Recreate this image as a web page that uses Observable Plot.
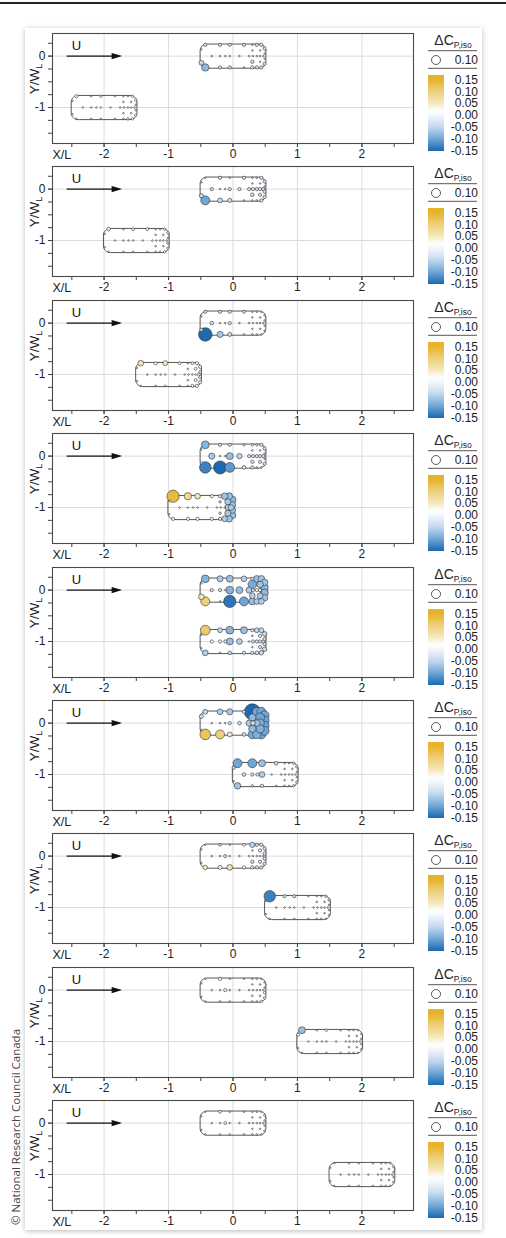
<!DOCTYPE html>
<html><head><meta charset="utf-8">
<script src="https://cdn.jsdelivr.net/npm/d3@7"></script>
<script src="https://cdn.jsdelivr.net/npm/@observablehq/plot@0.6"></script>
<style>
html,body{margin:0;padding:0;background:#fff;}
body{width:506px;height:1238px;position:relative;overflow:hidden;font-family:"Liberation Sans",Arial,sans-serif;}
#rule{position:absolute;left:0;top:2px;width:506px;height:1.5px;background:#222;}
#card{position:absolute;left:25px;top:28px;width:457px;height:1202px;background:#fff;box-shadow:0 1px 5px rgba(0,0,0,0.28);}
.panel{position:absolute;left:0;}
.legend{position:absolute;left:420px;}
.ylab{position:absolute;left:35px;transform:translate(-50%,-50%) rotate(-90deg);white-space:nowrap;font-size:13.5px;color:#222;line-height:1;}
.ylab sub{font-size:9px;vertical-align:-3px;line-height:0;}
#copy{position:absolute;left:15px;top:1127px;transform:translate(-50%,-50%) rotate(-90deg);white-space:nowrap;font-family:"Open Sans",sans-serif;font-size:11.5px;color:#444;}
</style></head>
<body>
<div id="rule"></div>
<div id="card"></div>
<div id="copy">© National Research Council Canada</div>
<script>
// ---------- axes / layout values ----------
const xDomain = [-2.8, 2.8];
const yDomain = [-1.7, 0.44];
const xTicks = [-2, -1, 0, 1, 2];
const xMinor = [-2.5, -2, -1.5, -1, -0.5, 0, 0.5, 1, 1.5, 2, 2.5];
const yTicks = [0, -1];
const yMinor = [0.25, 0, -0.25, -0.5, -0.75, -1, -1.25, -1.5];
const arrowX = [-2.58, -1.86];
const arrowTipX = -1.72;
const uPos = [-2.5, 0.2];

// building A fixed at origin; building B moves along X/L at Y/W_L = -1
const bldgACenter = [0, 0];
const bldgBX = [-2, -1.5, -1, -0.5, 0, 0.5, 1, 1.5, 2];
const bldgBY = -1;

// pressure tap layout, relative to building centre
// [top row 7 | centre row 10 | bottom row 7 | left edge 2 | right edge 4 | inner rows 4]
const tapDX = [-0.43, -0.2, -0.05, 0.17, 0.3, 0.37, 0.44,
  -0.33, -0.2, -0.12, -0.05, 0.1, 0.25, 0.31, 0.37, 0.42, 0.47,
  -0.43, -0.2, -0.05, 0.17, 0.3, 0.37, 0.44,
  -0.49, -0.49,
  0.49, 0.49, 0.49, 0.49,
  0.3, 0.42, 0.3, 0.42];
const tapDY = [0.22, 0.22, 0.22, 0.22, 0.22, 0.22, 0.22,
  0, 0, 0, 0, 0, 0, 0, 0, 0, 0,
  -0.22, -0.22, -0.22, -0.22, -0.22, -0.22, -0.22,
  0.13, -0.13,
  0.15, 0.05, -0.05, -0.15,
  0.11, 0.11, -0.11, -0.11];

// ΔCp,iso per tap, building A (origin) in each panel
const A1 = [-0.03,-0.03,-0.03,-0.03,-0.01,-0.03,-0.03, -0.01,-0.01,-0.01,-0.01,-0.01,-0.01,-0.01,-0.01,-0.01,-0.01, -0.08,-0.03,-0.03,-0.01,-0.03,-0.03,-0.03, -0.01,-0.05, -0.03,-0.01,-0.01,-0.03, -0.01,-0.01,-0.03,-0.01];
const A2 = [-0.01,-0.03,-0.01,-0.03,-0.01,-0.01,-0.03, -0.03,-0.01,-0.01,-0.03,-0.03,-0.03,-0.03,-0.03,-0.03,-0.03, -0.1,-0.05,-0.04,-0.01,-0.01,-0.01,-0.03, -0.01,-0.04, -0.03,-0.01,-0.03,-0.03, -0.01,-0.01,-0.035,-0.03];
const A3 = [-0.03,-0.03,-0.03,-0.025,-0.01,-0.01,-0.01, -0.035,-0.01,-0.01,-0.03,-0.01,-0.01,-0.01,-0.01,-0.01,-0.01, -0.155,-0.065,-0.04,-0.01,-0.01,-0.01,-0.01, -0.01,-0.03, -0.01,-0.01,-0.01,-0.01, -0.01,-0.01,-0.01,-0.01];
const A4 = [-0.085,-0.03,-0.03,-0.02,-0.02,-0.02,-0.03, -0.065,-0.01,-0.01,-0.075,-0.055,-0.03,-0.03,-0.03,-0.03,-0.03, -0.13,-0.15,-0.11,-0.035,-0.03,-0.01,-0.01, -0.01,-0.02, -0.03,-0.01,-0.01,-0.03, -0.01,-0.01,-0.03,-0.03];
const A5 = [-0.085,-0.065,-0.075,-0.06,-0.03,-0.07,-0.07, -0.03,-0.03,-0.01,-0.085,-0.075,-0.065,-0.03,0.03,0.03,-0.08, 0.1,-0.01,-0.14,-0.1,-0.075,-0.06,-0.06, -0.01,0.06, -0.07,-0.08,-0.08,-0.07, -0.095,-0.07,-0.06,-0.06];
const A6 = [-0.05,-0.06,-0.065,-0.03,-0.185,-0.1,-0.1, -0.01,-0.01,-0.01,-0.03,-0.035,-0.065,-0.05,-0.07,-0.09,-0.1, 0.12,0.1,0.05,-0.035,-0.095,-0.09,-0.1, -0.04,0.01, -0.1,-0.1,-0.1,-0.1, -0.08,-0.1,-0.08,-0.09];
const A7 = [-0.01,-0.025,-0.01,0.025,-0.055,-0.03,-0.03, -0.01,-0.01,-0.03,-0.01,-0.01,-0.01,-0.01,-0.01,-0.01,-0.01, 0.045,0.04,0.06,0.03,-0.03,-0.03,-0.03, -0.01,0.01, -0.03,-0.03,-0.03,-0.03, -0.01,-0.03,-0.03,-0.03];
const A8 = [0.01,0.03,0.01,0.01,0.01,0.01,0.01, 0.01,0.01,0.03,0.01,0.01,0.01,0.01,0.01,0.01,0.01, 0.01,0.01,0.01,0.01,0.01,0.01,0.02, 0.01,0.01, 0.01,0.01,0.02,0.02, 0.01,0.01,0.01,0.01];
const A9 = [0.01,0.025,0.01,0.01,0.01,0.01,0.01, 0.01,0.01,0.025,0.01,0.01,0.01,0.01,0.01,0.01,0.01, 0.01,0.01,0.01,0.01,0.01,0.01,0.01, 0.01,0.01, 0.015,0.01,0.01,0.015, 0.01,0.01,0.01,0.01];
// building B (moving) in each panel
const B1 = [0.03,0.01,0.02,0.01,0.01,0.01,0.02, 0.01,0.01,0.01,0.01,0.01,0.01,0.01,0.01,0.01,0.01, 0.01,0.01,0.01,0.01,0.01,0.02,0.02, 0.01,0.01, 0.02,0.01,0.01,0.02, 0.01,0.01,0.01,0.01];
const B2 = [0.035,0.01,0.025,0.025,0.01,0.01,0.02, 0.01,0.01,0.01,0.01,0.01,0.01,0.01,0.01,0.01,0.01, 0.01,0.01,0.01,0.01,0.01,0.01,0.02, 0.01,0.01, 0.02,0.01,0.02,0.02, 0.01,0.01,0.01,0.01];
const B3 = [0.06,0.03,0.05,0.025,0.01,0.025,0.03, 0.01,0.01,0.01,0.01,0.01,0.01,0.01,0.01,0.01,0.025, 0.01,0.01,0.01,0.01,0.01,0.025,0.03, 0.01,0.01, 0.03,0.025,0.025,0.03, 0.01,0.025,0.01,0.025];
const B4 = [0.14,0.08,0.06,0.03,-0.03,-0.07,-0.075, 0.01,0.01,0.01,0.01,0.01,0.01,-0.01,-0.01,-0.06,-0.06, 0.03,0.03,0.03,0.03,-0.03,-0.06,-0.07, 0.01,0.01, -0.08,-0.07,-0.07,-0.075, -0.02,-0.065,-0.02,-0.065];
const B5 = [0.11,-0.05,-0.085,-0.075,-0.03,-0.05,-0.05, 0.03,0.03,-0.03,-0.075,-0.06,-0.01,-0.03,-0.03,-0.03,-0.03, -0.06,-0.01,-0.035,-0.03,-0.03,-0.035,-0.045, 0.01,-0.01, -0.045,-0.03,-0.03,-0.045, -0.01,-0.03,-0.01,-0.03];
const B6 = [-0.1,-0.1,-0.075,-0.035,-0.01,-0.01,-0.02, -0.035,-0.03,-0.03,-0.06,-0.01,-0.01,-0.01,-0.01,-0.01,-0.01, -0.07,-0.02,-0.03,-0.01,-0.01,-0.01,-0.02, -0.03,-0.01, -0.02,-0.01,-0.01,-0.02, -0.01,-0.01,-0.01,-0.01];
const B7 = [-0.13,-0.03,-0.03,-0.01,-0.01,-0.01,-0.02, -0.01,-0.01,-0.01,-0.01,-0.01,-0.01,-0.01,-0.01,-0.01,-0.01, -0.01,-0.01,-0.01,-0.01,-0.01,-0.01,-0.01, -0.01,-0.01, -0.02,-0.01,-0.01,-0.01, -0.01,-0.01,-0.01,-0.01];
const B8 = [-0.075,0.01,0.02,0.01,0.01,0.01,0.01, 0.01,0.01,0.01,0.01,0.01,0.01,0.01,0.01,0.01,0.01, 0.01,0.01,0.01,0.01,0.01,0.01,0.01, 0.025,0.01, 0.01,0.01,0.01,0.01, 0.01,0.01,0.01,0.01];
const B9 = [0.01,0.01,0.01,0.01,0.01,0.01,0.015, 0.01,0.01,0.01,0.01,0.01,0.01,0.01,0.01,0.01,0.01, 0.01,0.01,0.01,0.01,0.01,0.01,0.01, 0.01,0.01, 0.015,0.01,0.01,0.015, 0.01,0.01,0.01,0.01];
const bldgAValues = [A1, A2, A3, A4, A5, A6, A7, A8, A9];
const bldgBValues = [B1, B2, B3, B4, B5, B6, B7, B8, B9];

// legend
const legendSizeRef = 0.10;
const legendTicks = [0.15, 0.10, 0.05, 0.00, -0.05, -0.10, -0.15];

// colour & size scales
const colorStops = [-0.15, -0.10, -0.05, 0, 0.02, 0.05, 0.10, 0.15];
const colorRange = ["#1c69b0", "#6fa6d6", "#c2d8ed", "#f3f7fb", "#ffffff", "#f6e8bd", "#eed07a", "#e6b42a"];
const colorOpts = {type: "linear", domain: colorStops, range: colorRange, clamp: true};
const rOpts = {type: "linear", domain: [0, 0.1], range: [0.4, 4.5]};

// building outline (rounded rectangle) derived from a centre
function outline(cx, cy, id) {
  const hx = 0.51, hy = 0.235, rx = 0.11, ry = 0.13, n = 8, pts = [];
  const corners = [[cx + hx - rx, cy + hy - ry, 0], [cx - hx + rx, cy + hy - ry, 90],
                   [cx - hx + rx, cy - hy + ry, 180], [cx + hx - rx, cy - hy + ry, 270]];
  for (const [ox, oy, a0] of corners)
    for (let k = 0; k <= n; k++) {
      const a = (a0 + 90 * k / n) * Math.PI / 180;
      pts.push({x: ox + rx * Math.cos(a), y: oy + ry * Math.sin(a), id});
    }
  pts.push({...pts[0]});
  return pts;
}

const arrowHead = {draw(ctx) { ctx.moveTo(0, 0); ctx.lineTo(-10.5, -3.2); ctx.lineTo(-10.5, 3.2); ctx.closePath(); }};
const fmt = d => String(d);
const rowPitch = 133.375, rowTop0 = 28;

for (let i = 0; i < 9; i++) {
  const taps = [];
  const blds = [[bldgACenter[0], bldgACenter[1], bldgAValues[i]], [bldgBX[i], bldgBY, bldgBValues[i]]];
  blds.forEach(([cx, cy, vals]) => vals.forEach((v, k) => taps.push({x: cx + tapDX[k], y: cy + tapDY[k], v, a: Math.abs(v)})));
  const shapes = [...outline(bldgACenter[0], bldgACenter[1], "A"), ...outline(bldgBX[i], bldgBY, "B")];

  const svg = Plot.plot({
    width: 420, height: 133,
    marginLeft: 52, marginRight: 7, marginTop: 5, marginBottom: 18,
    x: {domain: xDomain, label: null},
    y: {domain: yDomain, label: null},
    r: rOpts,
    color: colorOpts,
    style: {fontFamily: "Liberation Sans, Arial, sans-serif", fontSize: "12px", color: "#222", background: "transparent", overflow: "visible"},
    marks: [
      Plot.ruleX(xTicks, {stroke: "#dcdcdc", strokeWidth: 1}),
      Plot.ruleY(yTicks, {stroke: "#dcdcdc", strokeWidth: 1}),
      Plot.axisX(xMinor, {tickSize: 4, tickFormat: () => "", stroke: "#444"}),
      Plot.axisX(xTicks, {tickSize: 4, tickPadding: 2, tickFormat: fmt, fontSize: 12, stroke: "#444"}),
      Plot.axisY(yMinor, {tickSize: 4, tickFormat: () => "", stroke: "#444"}),
      Plot.axisY(yTicks, {tickSize: 4, tickPadding: 3, tickFormat: fmt, fontSize: 12, stroke: "#444"}),
      Plot.frame({stroke: "#4a4a4a", strokeWidth: 1.1}),
      Plot.line(shapes, {x: "x", y: "y", z: "id", stroke: "#444", strokeWidth: 0.9, curve: "linear"}),
      Plot.dot(taps, {x: "x", y: "y", r: "a", fill: "v", stroke: "#333", strokeWidth: 0.6}),
      Plot.link([{x1: arrowX[0], x2: arrowX[1], y: 0}], {x1: "x1", x2: "x2", y1: "y", y2: "y", stroke: "#111", strokeWidth: 1.2}),
      Plot.dot([{x: arrowTipX, y: 0}], {x: "x", y: "y", r: 5, symbol: arrowHead, fill: "#111", stroke: null}),
      Plot.text(["U"], {x: uPos[0], y: uPos[1], text: d => d, fontSize: 13, textAnchor: "start", fill: "#111"}),
      Plot.text(["X/L"], {frameAnchor: "bottom-left", dy: 11, textAnchor: "start", lineAnchor: "middle", fontSize: 12.5, fill: "#222"})
    ]
  });
  const top = rowTop0 + i * rowPitch;
  const wrap = document.createElement("div");
  wrap.className = "panel";
  wrap.style.top = top + "px";
  wrap.appendChild(svg);
  document.body.appendChild(wrap);

  // y axis title with subscript
  const yl = document.createElement("div");
  yl.className = "ylab";
  yl.style.top = (top + 51) + "px";
  yl.innerHTML = "Y/W<sub>L</sub>";
  document.body.appendChild(yl);

  // legend
  const cs = Plot.scale({color: colorOpts});
  const rs = Plot.scale({r: rOpts});
  const ly = d3.scaleLinear([0.15, -0.15], [51.5, 122.8]);
  const lg = d3.create("svg").attr("width", 86).attr("height", 133)
    .style("font-family", "Liberation Sans, Arial, sans-serif").style("overflow", "visible");
  const gid = "grad" + i;
  const grad = lg.append("defs").append("linearGradient").attr("id", gid).attr("x1", 0).attr("x2", 0).attr("y1", 0).attr("y2", 1);
  const barTop = 47, barBot = 123;
  for (let s = 0; s <= 40; s++) {
    const yy = barTop + (barBot - barTop) * s / 40;
    grad.append("stop").attr("offset", s / 40).attr("stop-color", cs.apply(ly.invert(yy)));
  }
  const title = lg.append("text").attr("x", 33).attr("y", 17).attr("text-anchor", "middle").attr("font-size", 14).attr("fill", "#222");
  title.append("tspan").text("ΔC");
  title.append("tspan").attr("dy", 3).attr("font-size", 8.5).text("P,iso");
  lg.append("line").attr("x1", 8).attr("x2", 57).attr("y1", 22.7).attr("y2", 22.7).attr("stroke", "#555").attr("stroke-width", 1);
  lg.append("circle").attr("cx", 16).attr("cy", 32).attr("r", rs.apply(legendSizeRef)).attr("fill", "#fff").attr("stroke", "#333").attr("stroke-width", 0.8);
  lg.append("text").attr("x", 58).attr("y", 36.2).attr("text-anchor", "end").attr("font-size", 12).attr("fill", "#222").text(legendSizeRef.toFixed(2));
  lg.append("line").attr("x1", 8).attr("x2", 57).attr("y1", 40.3).attr("y2", 40.3).attr("stroke", "#555").attr("stroke-width", 1);
  lg.append("rect").attr("x", 8).attr("y", barTop).attr("width", 16).attr("height", barBot - barTop).attr("fill", `url(#${gid})`);
  lg.selectAll("text.tk").data(legendTicks).join("text").attr("class", "tk")
    .attr("x", 58).attr("y", d => ly(d)).attr("dy", "0.35em").attr("text-anchor", "end")
    .attr("font-size", 12).attr("fill", "#222").text(d => d.toFixed(2));
  const lw = document.createElement("div");
  lw.className = "legend";
  lw.style.top = top + "px";
  lw.appendChild(lg.node());
  document.body.appendChild(lw);
}
</script>
</body></html>
